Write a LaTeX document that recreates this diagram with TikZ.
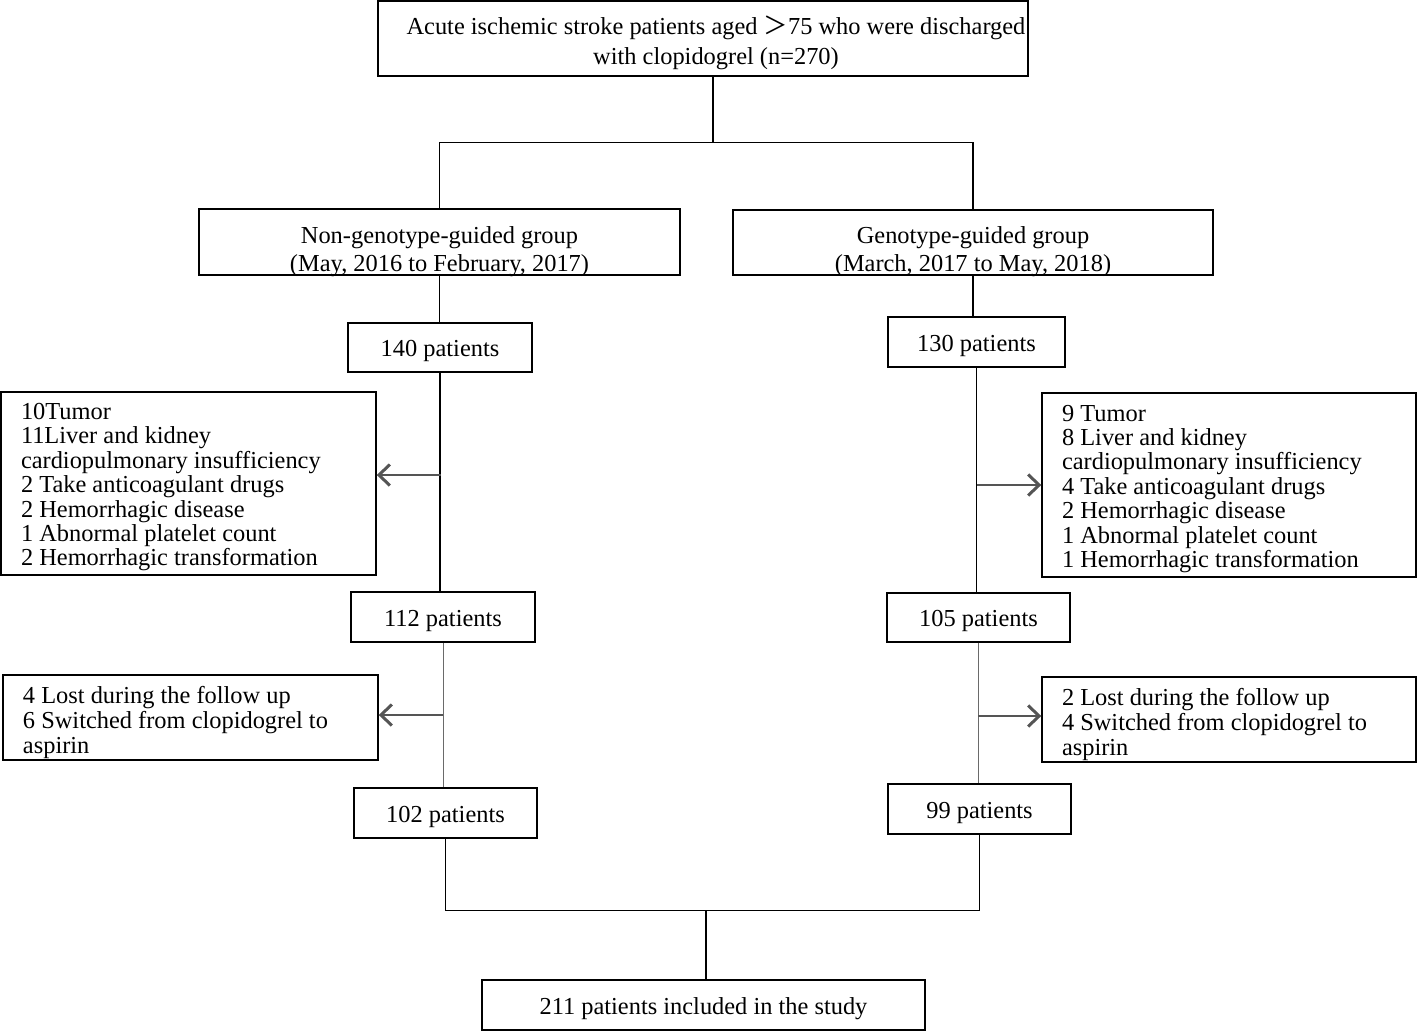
\documentclass[tikz,border=0pt]{standalone}
\usepackage{fontspec}
\setmainfont{Liberation Serif}
\newfontfamily\cjkfont{Noto Sans CJK SC}
\usetikzlibrary{arrows.meta}
\definecolor{arrgray}{HTML}{555555}
\definecolor{lingray}{HTML}{6A6A6A}
\begin{document}
\begin{tikzpicture}[x=1pt,y=-1pt,
  box/.style={draw=black, line width=1.4pt, inner sep=0pt, align=flush center,
    font=\fontsize{24.4}{28}\selectfont},
  single/.style={box, text height=18.6pt, text depth=0pt},
  exbox/.style={box, align=flush left, font=\fontsize{24.4}{24.4}\selectfont, text height=0pt},
  conn/.style={draw=black, line width=1.5pt},
  thinconn/.style={draw=lingray, line width=1pt},
  arr/.style={draw=arrgray, line width=2.6pt, -{Straight Barb[length=11pt,width=21pt,line width=3pt]}}
]
\useasboundingbox (0,0) rectangle (1418,1031);

\node[box, minimum width=650, minimum height=75, text width=650, text height=0pt, text depth=8pt,
  font=\fontsize{24.4}{30}\selectfont] (top) at (703,38.5)
  {\makebox[650pt][c]{\hspace*{26pt}Acute ischemic stroke patients aged {\cjkfont ＞}75 who were discharged}\\
   \makebox[650pt][c]{\hspace*{26pt}with clopidogrel (n=270)}};
\node[box, minimum width=481, minimum height=66, text width=481, text height=3pt, text depth=0pt] (ng) at (439.5,242)
  {Non-genotype-guided group\\(May, 2016 to February, 2017)};
\node[box, minimum width=480, minimum height=65, text width=480, text height=2pt, text depth=0pt] (g) at (973,242.5)
  {Genotype-guided group\\(March, 2017 to May, 2018)};
\node[single, minimum width=184, minimum height=49] (n140) at (440,347.5) {140 patients};
\node[single, minimum width=177, minimum height=50] (n130) at (976.5,342) {130 patients};

\node[exbox, minimum width=375, minimum height=183, text width=335, text depth=128pt] (exL) at (188.5,483.5)
  {10Tumor\\11Liver and kidney\\cardiopulmonary insufficiency\\2 Take anticoagulant drugs\\2 Hemorrhagic disease\\1 Abnormal platelet count\\2 Hemorrhagic transformation};
\node[exbox, minimum width=374, minimum height=184, text width=334, text depth=128pt] (exR) at (1229,485)
  {9 Tumor\\8 Liver and kidney\\cardiopulmonary insufficiency\\4 Take anticoagulant drugs\\2 Hemorrhagic disease\\1 Abnormal platelet count\\1 Hemorrhagic transformation};

\node[single, minimum width=184, minimum height=50] (n112) at (443,617) {112 patients};
\node[single, minimum width=183, minimum height=49] (n105) at (978.5,617.5) {105 patients};

\node[exbox, minimum width=375, minimum height=85, text width=335, text depth=28pt,
  font=\fontsize{24.4}{25}\selectfont] (lostL) at (190.5,717.5)
  {4 Lost during the follow up\\6 Switched from clopidogrel to\\aspirin};
\node[exbox, minimum width=374, minimum height=85, text width=334, text depth=28pt,
  font=\fontsize{24.4}{25}\selectfont] (lostR) at (1229,719.5)
  {2 Lost during the follow up\\4 Switched from clopidogrel to\\aspirin};

\node[single, minimum width=183, minimum height=50] (n102) at (445.5,813) {102 patients};
\node[single, minimum width=183, minimum height=50] (n99) at (979.5,809) {99 patients};
\node[single, minimum width=443, minimum height=50] (final) at (703.5,1005) {211 patients included in the study};

% top split
\coordinate (jt) at (713,143);
\draw[conn] (top.south -| jt) -- (jt);
\draw[conn] (ng.north) -- ++(0,-66) -| (g.north);

% left column
\draw[conn] (ng.south) -- (ng.south |- n140.north);
\draw[conn] (n140.south) -- (n140.south |- n112.north);
\coordinate (aL) at (441,475);
\draw[arr] (aL) -- (aL -| exL.east);
\draw[thinconn] (n112.south) -- (n112.south |- n102.north);
\coordinate (bL) at (443,715);
\draw[arr] (bL) -- (bL -| lostL.east);

% right column
\draw[conn] (g.south) -- (g.south |- n130.north);
\draw[conn] (n130.south) -- (n130.south |- n105.north);
\coordinate (aR) at (977,485);
\draw[arr] (aR) -- (aR -| exR.west);
\draw[thinconn] (n105.south) -- (n105.south |- n99.north);
\coordinate (bR) at (978,716);
\draw[arr] (bR) -- (bR -| lostR.west);

% merge
\draw[conn] (n102.south) -- ++(0,72) -| (n99.south);
\coordinate (jb) at (706,910);
\draw[conn] (jb) -- (jb |- final.north);
\end{tikzpicture}
\end{document}
